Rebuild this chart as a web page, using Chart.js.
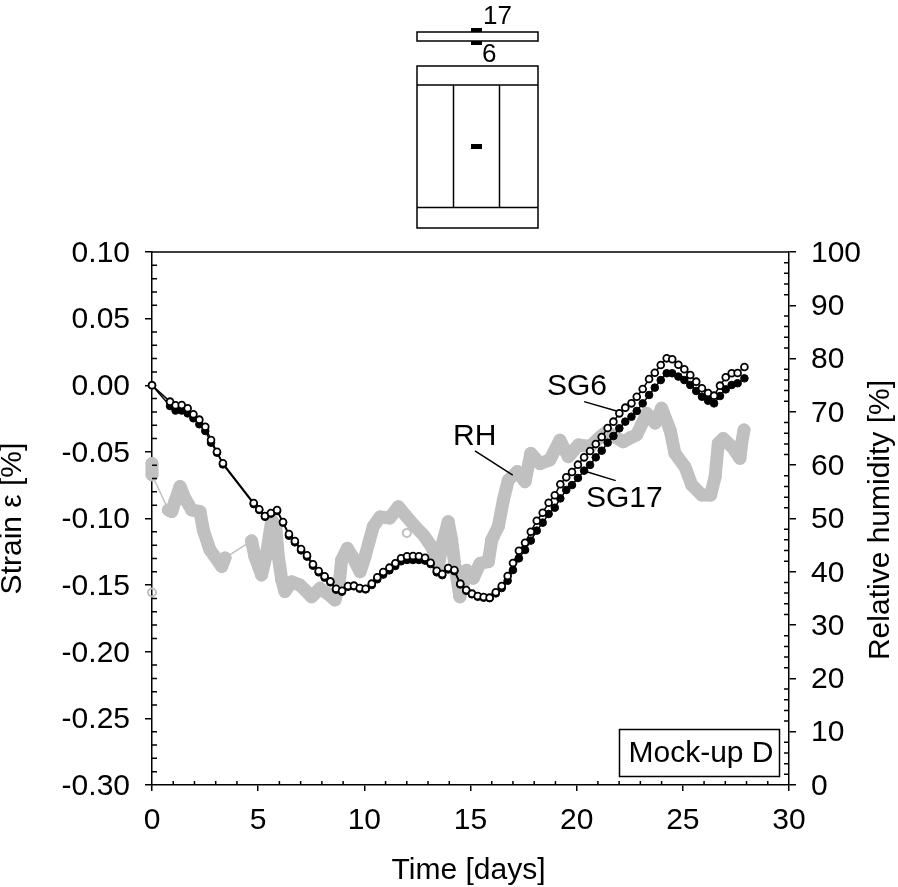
<!DOCTYPE html>
<html>
<body style="margin:0;background:#fff">
<canvas id="chart" width="898" height="887" style="display:block"></canvas>
<script src="https://cdn.jsdelivr.net/npm/chart.js"></script>
<script>
const sgTime = [0,0.85,1.11,1.40,1.68,1.95,2.23,2.51,2.78,3.06,3.34,4.79,5.05,5.32,5.60,5.89,6.17,6.45,6.73,7.02,7.30,7.58,7.85,8.13,8.40,8.67,8.95,9.23,9.51,9.78,10.06,10.35,10.61,10.89,11.18,11.46,11.73,12.01,12.29,12.57,12.86,13.12,13.41,13.67,13.95,14.24,14.52,14.80,15.07,15.34,15.62,15.90,16.19,16.47,16.75,17.00,17.28,17.57,17.84,18.12,18.40,18.68,18.97,19.23,19.51,19.78,20.06,20.35,20.63,20.90,21.18,21.46,21.73,22.01,22.29,22.58,22.83,23.11,23.41,23.68,23.96,24.24,24.50,24.79,25.07,25.35,25.63,25.90,26.19,26.47,26.75,27.02,27.30,27.58,27.90];
const sg6 = [0,-0.0123,-0.0151,-0.0148,-0.0173,-0.0218,-0.0258,-0.0311,-0.0411,-0.0499,-0.0586,-0.0884,-0.0931,-0.0981,-0.0959,-0.0936,-0.1026,-0.1116,-0.1169,-0.1229,-0.1276,-0.1344,-0.1394,-0.1434,-0.1472,-0.1527,-0.1542,-0.1507,-0.1504,-0.1522,-0.1527,-0.1489,-0.1441,-0.1402,-0.1369,-0.1336,-0.1299,-0.1284,-0.1281,-0.1284,-0.1294,-0.1332,-0.1392,-0.1417,-0.1372,-0.1387,-0.1489,-0.1537,-0.1564,-0.1582,-0.1589,-0.1594,-0.1554,-0.1507,-0.1432,-0.1334,-0.1242,-0.1182,-0.1099,-0.1017,-0.0957,-0.0882,-0.0826,-0.0743,-0.0691,-0.0651,-0.0596,-0.0541,-0.0493,-0.0441,-0.0388,-0.0321,-0.0273,-0.0211,-0.0168,-0.0136,-0.0086,-0.0028,0.0047,0.0094,0.0152,0.0202,0.0195,0.0154,0.0120,0.0077,0.0027,-0.0023,-0.0058,-0.0078,-0.0003,0.0060,0.0090,0.0092,0.0137];
const sg17 = [0,-0.0156,-0.0190,-0.0190,-0.0211,-0.0248,-0.0293,-0.0343,-0.0431,-0.0506,-0.0594,-0.0892,-0.0936,-0.0987,-0.0964,-0.0944,-0.1031,-0.1129,-0.1179,-0.1239,-0.1286,-0.1354,-0.1404,-0.1444,-0.1479,-0.1534,-0.1549,-0.1512,-0.1509,-0.1527,-0.1532,-0.1499,-0.1456,-0.1421,-0.1389,-0.1356,-0.1321,-0.1311,-0.1311,-0.1311,-0.1316,-0.1342,-0.1404,-0.1425,-0.1382,-0.1395,-0.1495,-0.1542,-0.1569,-0.1587,-0.1594,-0.1598,-0.1562,-0.1522,-0.1467,-0.1387,-0.1299,-0.1236,-0.1166,-0.1091,-0.1031,-0.0966,-0.0919,-0.0849,-0.0786,-0.0749,-0.0696,-0.0641,-0.0598,-0.0541,-0.0491,-0.0431,-0.0381,-0.0323,-0.0273,-0.0236,-0.0193,-0.0136,-0.0073,-0.0018,0.0039,0.0090,0.0090,0.0065,0.0039,0.0002,-0.0043,-0.0086,-0.0116,-0.0136,-0.0081,-0.0031,0.0002,0.0015,0.0052];

const rhTime = [0,0,0.77,0.93,1.08,1.32,1.55,1.87,2.26,2.42,2.73,3.08,3.28,3.44,4.69,4.85,5.16,5.40,5.64,5.83,5.95,6.11,6.26,6.58,6.97,7.20,7.52,7.91,8.30,8.62,8.82,8.93,9.20,9.45,9.80,10.03,10.42,10.74,11.20,11.60,12.00,12.39,12.78,13.17,13.49,13.64,13.95,14.11,14.27,14.50,14.82,15.13,15.45,15.84,16.00,16.31,16.55,16.78,17.20,17.57,17.84,18.27,18.74,19.21,19.61,20.08,20.63,21.10,21.42,21.85,22.20,22.50,22.83,23.30,23.69,24.00,24.40,24.63,25.10,25.42,25.89,26.31,26.52,26.67,26.90,27.37,27.69,27.77,27.88];
const rh = [60.3,58.2,51.6,51.3,53.2,56.0,53.8,51.6,51.3,47.8,44.1,42.2,41.0,42.6,45.8,42.8,39.4,43.5,49.7,48.5,42.8,38.5,36.3,38.1,37.5,36.6,35.3,36.9,35.8,34.7,37.9,42.2,44.4,42.8,40.0,42.8,48.5,50.3,50.1,52.2,50.3,48.5,46.9,44.7,41.0,44.7,49.4,46.0,41.0,35.3,40.3,38.8,41.6,41.9,46.0,48.5,53.5,57.2,58.8,56.9,62.2,60.3,61.0,64.7,61.6,63.8,63.5,65.3,66.3,65.2,64.4,65.1,65.7,69.7,67.9,70.7,66.6,62.2,59.7,56.3,54.4,54.4,57.8,64.1,65.0,63.2,61.3,64.1,66.6];
const rhStrayTime = [0,12.0];
const rhStray = [36.1,47.3];

const timeTicks = [0,5,10,15,20,25,30];
const timeMinor = [1,2,3,4,6,7,8,9,11,12,13,14,16,17,18,19,21,22,23,24,26,27,28,29];
const strainTicks = [0.10,0.05,0,-0.05,-0.10,-0.15,-0.20,-0.25,-0.30];
const rhTicks = [0,10,20,30,40,50,60,70,80,90,100];

const sg6LeaderTime = [20.35,21.88], sg6LeaderStrain = [-0.0123,-0.0193];
const sg17LeaderTime = [20.47,21.84], sg17LeaderStrain = [-0.0649,-0.0716];
const rhLeaderTime = [15.21,16.99], rhLeaderStrain = [-0.0493,-0.0674];

const FONT = '"Liberation Sans", Arial, sans-serif';
const FS = 30;
const GREY = '#c0c0c0';

function pts(xs, ys){
    return xs.map((x, i) => ({x: x, y: ys[i]}));
}

function leader(xs, ys){
    return {data: pts(xs, ys), yAxisID: 'y', borderColor: '#000', borderWidth: 1.5, pointRadius: 0};
}

function sideTitle(c, text, x, y){
    c.save();
    c.translate(x, y);
    c.rotate(-Math.PI / 2);
    c.fillText(text, 0, 0);
    c.restore();
}

// minor ticks, axis frame, inset sketch and labels
const extras = {
    id: 'extras',
    afterDraw(chart){
        const c = chart.ctx, x = chart.scales.x, y = chart.scales.y, y2 = chart.scales.y2, a = chart.chartArea;
        c.save();
        c.strokeStyle = '#000';
        c.fillStyle = '#000';
        c.lineWidth = 1.5;
        c.beginPath();
        timeMinor.forEach(v => {
            let px = x.getPixelForValue(v);
            c.moveTo(px, a.bottom); c.lineTo(px, a.bottom - 4);
        });
        for(let i = -30; i <= 10; i++){
            if(i % 5 === 0) continue;
            let py = y.getPixelForValue(i / 100);
            c.moveTo(a.left, py); c.lineTo(a.left + 5, py);
        }
        for(let i = 2; i < 100; i += 2){
            if(i % 10 === 0) continue;
            let py = y2.getPixelForValue(i);
            c.moveTo(a.right, py); c.lineTo(a.right - 5, py);
        }
        c.moveTo(a.left, a.top); c.lineTo(a.right, a.top);
        c.stroke();

        // construction sketch above the plot
        c.strokeRect(417, 32, 121, 9);
        c.strokeRect(417, 66, 121, 162);
        c.beginPath();
        c.moveTo(417, 85); c.lineTo(538, 85);
        c.moveTo(417, 207.5); c.lineTo(538, 207.5);
        c.moveTo(453.5, 85); c.lineTo(453.5, 207.5);
        c.moveTo(499.5, 85); c.lineTo(499.5, 207.5);
        c.stroke();
        c.fillRect(471, 28, 11, 4);
        c.fillRect(471, 41, 11, 4);
        c.fillRect(471, 144, 11, 5);

        c.textBaseline = 'middle';
        c.textAlign = 'left';
        c.font = '26px ' + FONT;
        c.fillText('17', 483, 17);
        c.fillText('6', 482, 55);
        c.font = FS + 'px ' + FONT;
        c.fillText('SG6', 547, 387);
        c.fillText('RH', 453, 437);
        c.fillText('SG17', 586, 499);

        c.fillStyle = '#fff';
        c.fillRect(619.5, 729.5, 160, 47);
        c.strokeRect(619.5, 729.5, 160, 47);
        c.fillStyle = '#000';
        c.textAlign = 'center';
        c.fillText('Mock-up D', 701, 754);

        c.fillText('Time [days]', 468.5, 871);
        sideTitle(c, 'Strain ε [%]', 13, 518.5);
        sideTitle(c, 'Relative humidity [%]', 881, 520);
        c.restore();
    }
};

new Chart(document.getElementById('chart'), {
    type: 'line',
    plugins: [extras],
    data: {
        datasets: [
            leader(sg6LeaderTime, sg6LeaderStrain),
            leader(sg17LeaderTime, sg17LeaderStrain),
            leader(rhLeaderTime, rhLeaderStrain),
            {data: pts(sgTime, sg6), yAxisID: 'y', borderColor: '#000', borderWidth: 1.5, backgroundColor: '#fff',
             pointBorderColor: '#000', pointBorderWidth: 1.8, pointRadius: 3.4, clip: false},
            {data: pts(sgTime, sg17), yAxisID: 'y', borderColor: '#000', borderWidth: 1.5, backgroundColor: '#000',
             pointBorderColor: '#000', pointBorderWidth: 1, pointRadius: 3.8, clip: false},
            {data: pts(rhTime, rh), yAxisID: 'y2', borderColor: GREY, borderWidth: 13, borderCapStyle: 'round', borderJoinStyle: 'round',
             backgroundColor: GREY, pointBorderColor: GREY, pointBorderWidth: 1, pointRadius: 6, clip: false,
             segment: {borderWidth: ctx => ctx.p1.parsed.x - ctx.p0.parsed.x > 0.7 ? 1.5 : 13}},
            {data: pts(rhStrayTime, rhStray), yAxisID: 'y2', showLine: false, backgroundColor: 'transparent',
             pointBorderColor: GREY, pointBorderWidth: 2, pointRadius: 4, clip: false}
        ]
    },
    options: {
        responsive: false,
        animation: false,
        events: [],
        layout: {padding: {top: 252}},
        plugins: {legend: {display: false}, tooltip: {enabled: false}},
        scales: {
            x: {
                type: 'linear', min: 0, max: 30,
                afterBuildTicks: s => { s.ticks = timeTicks.map(v => ({value: v})); },
                afterFit: s => { s.height = 102; },
                grid: {drawOnChartArea: false, color: '#000', lineWidth: 1.5, tickLength: 6},
                border: {color: '#000', width: 1.5},
                ticks: {color: '#000', font: {family: FONT, size: FS}, maxRotation: 0, padding: 12}
            },
            y: {
                position: 'left', min: -0.30, max: 0.10,
                afterBuildTicks: s => { s.ticks = strainTicks.map(v => ({value: v})); },
                afterFit: s => { s.width = 152; },
                grid: {drawOnChartArea: false, color: '#000', lineWidth: 1.5, tickLength: 7},
                border: {color: '#000', width: 1.5},
                ticks: {color: '#000', font: {family: FONT, size: FS}, padding: 15, labelOffset: 1.5, callback: v => v.toFixed(2)}
            },
            y2: {
                position: 'right', min: 0, max: 100,
                afterBuildTicks: s => { s.ticks = rhTicks.map(v => ({value: v})); },
                afterFit: s => { s.width = 109; },
                grid: {drawOnChartArea: false, color: '#000', lineWidth: 1.5, tickLength: 7},
                border: {color: '#000', width: 1.5},
                ticks: {color: '#000', font: {family: FONT, size: FS}, padding: 15, labelOffset: 1.5}
            }
        }
    }
});
</script>
</body>
</html>
